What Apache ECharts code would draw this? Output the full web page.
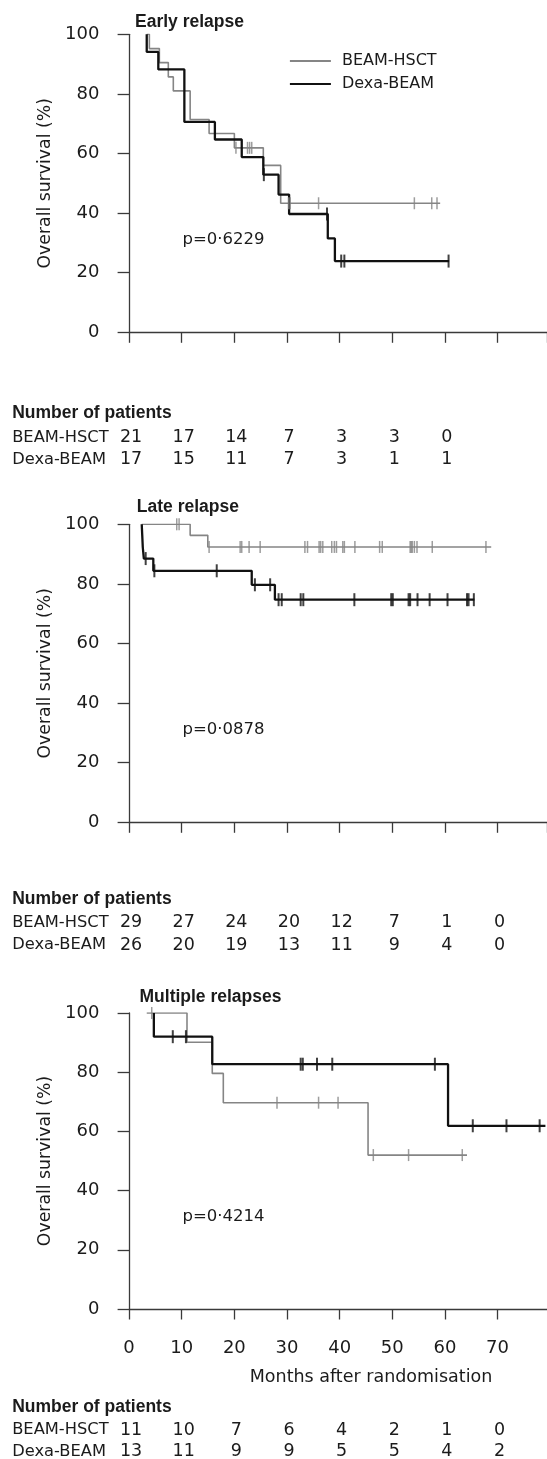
<!DOCTYPE html>
<html>
<head>
<meta charset="utf-8">
<script src="https://cdn.jsdelivr.net/npm/echarts@6/dist/echarts.min.js"></script>
<style>
  html, body { margin: 0; padding: 0; background: #fff; }
  #chart { width: 547px; height: 1459px; }
</style>
</head>
<body>
<div id="chart"></div>
<script>
// Kaplan-Meier curves: [months, overall survival %]
const earlyHsctSteps = [[3.35,100],[3.85,95.2],[5.75,90.5],[7.45,85.7],[8.4,81.0],[11.6,71.4],[15.2,66.7],[20.0,61.9],[25.5,56.0],[28.8,43.3],[59.1,43.3]];
const earlyHsctCensor = [20.3, 22.5, 22.9, 23.3, 30.3, 30.6, 36.0, 54.2, 57.5, 58.5];
const earlyDexaSteps = [[3.35,100],[3.35,94.1],[5.55,88.2],[10.5,70.6],[16.3,64.7],[21.4,58.8],[25.5,52.9],[28.4,46.2],[30.4,39.7],[37.75,31.5],[39.1,23.9],[60.8,23.9]];
const earlyDexaCensor = [25.6, 37.6, 40.3, 40.9, 60.7];

const lateHsctSteps = [[2.4,100],[11.6,96.3],[14.95,92.4],[68.8,92.4]];
const lateHsctCensor = [9.05, 9.5, 15.2, 21.1, 21.4, 22.8, 24.9, 33.4, 33.9, 36.1, 36.4, 36.8, 38.5, 39.0, 39.4, 40.6, 40.9, 42.9, 47.6, 48.1, 53.4, 53.6, 53.8, 54.2, 54.7, 57.6, 67.8];
const lateDexaSteps = [[2.4,100],[2.5,96.2],[2.6,92.3],[2.8,88.5],[4.6,84.4],[23.3,79.7],[27.7,74.7],[65.6,74.7]];
const lateDexaCensor = [3.15, 4.8, 16.65, 23.9, 26.8, 28.4, 29.0, 32.6, 33.1, 42.8, 49.8, 50.1, 53.1, 53.4, 54.8, 57.1, 60.5, 64.2, 64.5, 65.5];

const multiHsctSteps = [[3.35,100],[11.0,90.1],[15.8,79.6],[17.9,69.7],[45.4,52.0],[64.2,52.0]];
const multiHsctCensor = [4.3, 28.1, 36.0, 39.7, 46.4, 53.1, 63.3];
const multiDexaSteps = [[4.7,100],[4.7,92.0],[15.8,82.7],[60.6,61.9],[79.1,61.9]];
const multiDexaCensor = [8.3, 10.8, 32.6, 33.0, 35.7, 38.6, 58.1, 65.3, 71.7, 78.0];

// numbers at risk
const riskMonths = [0, 10, 20, 30, 40, 50, 60, 70];
const earlyRiskHsct = [21, 17, 14, 7, 3, 3, 0];
const earlyRiskDexa = [17, 15, 11, 7, 3, 1, 1];
const lateRiskHsct = [29, 27, 24, 20, 12, 7, 1, 0];
const lateRiskDexa = [26, 20, 19, 13, 11, 9, 4, 0];
const multiRiskHsct = [11, 10, 7, 6, 4, 2, 1, 0];
const multiRiskDexa = [13, 11, 9, 9, 5, 5, 4, 2];

const GRAY = '#858585';
const BLACK = '#111';
const TEXT = '#1b1b1b';
const AXIS = '#3a3a3a';
const FONT = 'DejaVu Sans';
const BOLD = 'Liberation Sans';

const panels = [
    { title: 'Early relapse', p: 'p=0·6229', hsct: earlyHsctSteps, hsctCensor: earlyHsctCensor,
      dexa: earlyDexaSteps, dexaCensor: earlyDexaCensor, riskHsct: earlyRiskHsct, riskDexa: earlyRiskDexa,
      top: 34.3, height: 298, xOffset: 11, titleX: 135, titleY: 21.7, pY: 239.3, riskY: [413.3, 437.3, 459.3] },
    { title: 'Late relapse', p: 'p=0·0878', hsct: lateHsctSteps, hsctCensor: lateHsctCensor,
      dexa: lateDexaSteps, dexaCensor: lateDexaCensor, riskHsct: lateRiskHsct, riskDexa: lateRiskDexa,
      top: 524.3, height: 298, xOffset: 11.7, titleX: 136.8, titleY: 506.7, pY: 729.3, riskY: [899.3, 922.7, 945] },
    { title: 'Multiple relapses', p: 'p=0·4214', hsct: multiHsctSteps, hsctCensor: multiHsctCensor,
      dexa: multiDexaSteps, dexaCensor: multiDexaCensor, riskHsct: multiRiskHsct, riskDexa: multiRiskDexa,
      top: 1013, height: 296, xOffset: 13.3, titleX: 139.5, titleY: 996.7, pY: 1216.7, riskY: [1406.7, 1430, 1451.7] }
];

// survival level of a step curve at time t (for placing censor ticks on the line)
const levelAt = (steps, t) => {
    let v = steps[0][1];
    for (const [x, y] of steps) {
        if (x <= t) v = y; else break;
    }
    return v;
};

const tickPath = 'path://M0,0H1V10H0Z';

const grids = [], xAxes = [], yAxes = [], series = [];
panels.forEach((pn, i) => {
    const last = i === panels.length - 1;
    grids.push({ left: 129.1, right: 0, top: pn.top, height: pn.height });
    xAxes.push({
        gridIndex: i, type: 'value', min: 0, max: 79.4, interval: 10, offset: pn.xOffset,
        axisLine: { show: true, lineStyle: { color: AXIS, width: 1.3 } },
        axisTick: { show: true, length: 10.5, lineStyle: { color: AXIS, width: 1.3 } },
        axisLabel: { show: last, margin: 17, fontSize: 18, fontFamily: FONT, color: TEXT,
                     showMaxLabel: false },
        splitLine: { show: false },
        name: last ? 'Months after randomisation' : '',
        nameLocation: 'middle', nameGap: 46,
        nameTextStyle: { fontSize: 17.5, fontFamily: FONT, color: TEXT, padding: [0, 0, 0, 66] }
    });
    yAxes.push({
        gridIndex: i, type: 'value', min: 0, max: 100, interval: 20, offset: 11.2,
        axisLine: { show: true, lineStyle: { color: AXIS, width: 1.3 } },
        axisTick: { show: true, length: 11.5, lineStyle: { color: AXIS, width: 1.3 } },
        axisLabel: { margin: 18.5, fontSize: 18, fontFamily: FONT, color: TEXT },
        splitLine: { show: false },
        name: 'Overall survival (%)', nameLocation: 'middle', nameGap: 61,
        nameTextStyle: { fontSize: 17.3, fontFamily: FONT, color: TEXT }
    });
    series.push({
        name: 'BEAM-HSCT', type: 'line', xAxisIndex: i, yAxisIndex: i, step: 'end',
        symbol: 'none', data: pn.hsct, lineStyle: { color: GRAY, width: 1.6 }, itemStyle: { color: GRAY }, z: 2
    });
    series.push({
        name: 'Dexa-BEAM', type: 'line', xAxisIndex: i, yAxisIndex: i, step: 'end',
        symbol: 'none', data: pn.dexa, lineStyle: { color: BLACK, width: 2.3 }, itemStyle: { color: BLACK }, z: 3
    });
    series.push({
        name: 'BEAM-HSCT censored', type: 'scatter', xAxisIndex: i, yAxisIndex: i,
        symbol: tickPath, symbolSize: [1.5, 12],
        data: pn.hsctCensor.map(t => [t, levelAt(pn.hsct, t)]),
        itemStyle: { color: GRAY }, z: 4
    });
    series.push({
        name: 'Dexa-BEAM censored', type: 'scatter', xAxisIndex: i, yAxisIndex: i,
        symbol: tickPath, symbolSize: [2, 13],
        data: pn.dexaCensor.map(t => [t, levelAt(pn.dexa, t)]),
        itemStyle: { color: BLACK }, z: 5
    });
});

const chart = echarts.init(document.getElementById('chart'), null, { renderer: 'canvas' });
chart.setOption({
    animation: false,
    backgroundColor: '#fff',
    grid: grids,
    xAxis: xAxes,
    yAxis: yAxes,
    legend: {
        data: ['BEAM-HSCT', 'Dexa-BEAM'], orient: 'vertical', left: 288.9, top: 53, padding: 0,
        itemWidth: 41, itemHeight: 14, itemGap: 7, selectedMode: false,
        itemStyle: { opacity: 0 },
        textStyle: { fontSize: 16, fontFamily: FONT, color: TEXT, padding: [0, 0, 0, 6] }
    },
    series: series
});

// titles, p values and numbers-at-risk tables
const txt = (text, x, y, opts) => ({
    type: 'text', x: x, y: y, silent: true,
    style: Object.assign({
        text: text, fill: TEXT, fontSize: 16.3, fontFamily: FONT,
        align: 'left', verticalAlign: 'middle', textAlign: 'left', textVerticalAlign: 'middle'
    }, opts || {})
});
const boldOpts = { fontFamily: BOLD, fontWeight: 'bold', fontSize: 17.5 };
const numOpts = { fontSize: 17.5, align: 'center', textAlign: 'center' };

const graphics = [];
panels.forEach((pn, i) => {
    graphics.push(txt(pn.title, pn.titleX, pn.titleY, boldOpts));
    graphics.push(txt(pn.p, 182.5, pn.pY, { fontSize: 16.5 }));
    graphics.push(txt('Number of patients', 12.2, pn.riskY[0], boldOpts));
    graphics.push(txt('BEAM-HSCT', 12.2, pn.riskY[1]));
    graphics.push(txt('Dexa-BEAM', 12.2, pn.riskY[2]));
    pn.riskHsct.forEach((n, k) => {
        const x = chart.convertToPixel({ xAxisIndex: i }, riskMonths[k]) + 2;
        graphics.push(txt(String(n), x, pn.riskY[1], numOpts));
    });
    pn.riskDexa.forEach((n, k) => {
        const x = chart.convertToPixel({ xAxisIndex: i }, riskMonths[k]) + 2;
        graphics.push(txt(String(n), x, pn.riskY[2], numOpts));
    });
});
chart.setOption({ graphic: graphics });
</script>
</body>
</html>
